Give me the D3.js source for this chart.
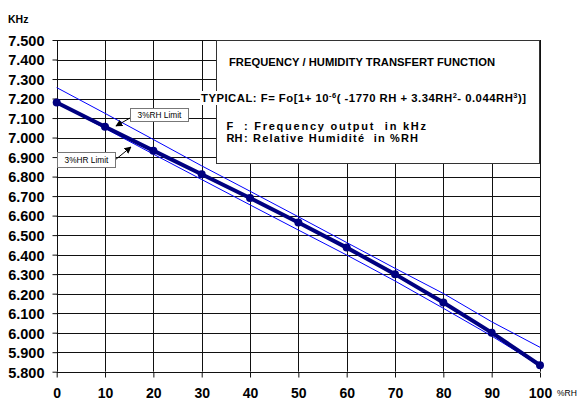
<!DOCTYPE html>
<html>
<head>
<meta charset="utf-8">
<script src="https://cdn.jsdelivr.net/npm/d3@7"></script>
<style>
  body { margin: 0; background: #fff; }
  text { font-family: "Liberation Sans", Arial, sans-serif; }
</style>
</head>
<body>
<div id="chart"></div>
<script>
// values
const rh = [0, 10, 20, 30, 40, 50, 60, 70, 80, 90, 100];
const freq = [7.180, 7.055, 6.933, 6.812, 6.690, 6.565, 6.436, 6.300, 6.155, 6.000, 5.833];
const upperLimit = [7.256, 7.124, 6.990, 6.855, 6.725, 6.594, 6.462, 6.330, 6.201, 6.056, 5.925];
const lowerLimit = [7.178, 7.047, 6.915, 6.785, 6.655, 6.526, 6.398, 6.265, 6.125, 5.983, 5.830];
const yTicks = d3.range(5.8, 7.5001, 0.1).map(v => +v.toFixed(1));
const xTicks = [0, 10, 20, 30, 40, 50, 60, 70, 80, 90, 100];

const w = 580, h = 401;

let svg = d3.select("#chart")
    .append("svg")
    .attr("width", w)
    .attr("height", h);

let x = d3.scaleLinear().domain([0, 100]).range([56.7, 540]);
let y = d3.scaleLinear().domain([5.8, 7.5]).range([371.7, 40]);

// grid
svg.append("g")
    .selectAll("line")
    .data(yTicks)
    .enter()
    .append("line")
    .attr("x1", x(0)).attr("x2", x(100))
    .attr("y1", d => Math.round(y(d)) + 0.5)
    .attr("y2", d => Math.round(y(d)) + 0.5)
    .attr("stroke", "#111");

svg.append("g")
    .selectAll("line")
    .data(xTicks)
    .enter()
    .append("line")
    .attr("y1", y(7.5)).attr("y2", y(5.8))
    .attr("x1", d => Math.round(x(d)) + 0.5)
    .attr("x2", d => Math.round(x(d)) + 0.5)
    .attr("stroke", "#111");

// axes
let yAxis = d3.axisLeft(y).tickValues(yTicks).tickSize(5).tickFormat(d3.format(".3f"));
let gy = svg.append("g")
    .attr("transform", "translate(" + (Math.round(x(0)) + 0.5) + ",0)")
    .call(yAxis);
gy.select(".domain").remove();
gy.selectAll("line").attr("stroke", "#111");
gy.selectAll("text")
    .attr("x", -13)
    .attr("dy", "0.37em")
    .attr("fill", "#000")
    .attr("font-size", "14.5px")
    .attr("font-weight", "bold")
    .attr("font-family", "Liberation Sans, Arial, sans-serif");

let xAxis = d3.axisBottom(x).tickValues(xTicks).tickSize(5).tickFormat(d3.format("d"));
let gx = svg.append("g")
    .attr("transform", "translate(0," + (Math.round(y(5.8)) + 0.5) + ")")
    .call(xAxis);
gx.select(".domain").remove();
gx.selectAll("line").attr("stroke", "#111");
gx.selectAll("text")
    .attr("y", 25.5)
    .attr("dy", 0)
    .attr("fill", "#000")
    .attr("font-size", "14px")
    .attr("font-weight", "bold")
    .attr("font-family", "Liberation Sans, Arial, sans-serif");

svg.append("text")
    .attr("x", 557).attr("y", 396)
    .attr("font-size", "8.5px")
    .text("%RH");

svg.append("text")
    .attr("x", 8).attr("y", 22.5)
    .attr("font-size", "10.5px")
    .attr("font-weight", "bold")
    .text("KHz");

// text box
svg.append("rect")
    .attr("x", 216.5).attr("y", 40.5)
    .attr("width", 323).attr("height", 123)
    .attr("fill", "#fff")
    .attr("stroke", "#333");

svg.append("text")
    .attr("x", 229).attr("y", 66)
    .attr("font-size", "11.2px")
    .attr("font-weight", "bold")
    .attr("textLength", 266)
    .text("FREQUENCY / HUMIDITY TRANSFERT FUNCTION");

// formula line runs a little past the box on the left
svg.append("rect")
    .attr("x", 200).attr("y", 91)
    .attr("width", 17).attr("height", 14)
    .attr("fill", "#fff");

let typ = svg.append("text")
    .attr("x", 201).attr("y", 102)
    .attr("font-size", "11.3px")
    .attr("letter-spacing", "0.5px")
    .attr("font-weight", "bold");
typ.append("tspan").text("TYPICAL: F= Fo[1+ 10");
typ.append("tspan").attr("dy", -4).attr("font-size", "7.5px").text("-6");
typ.append("tspan").attr("dy", 4).text("( -1770 RH + 3.34RH");
typ.append("tspan").attr("dy", -4).attr("font-size", "7.5px").text("2");
typ.append("tspan").attr("dy", 4).text("- 0.044RH");
typ.append("tspan").attr("dy", -4).attr("font-size", "7.5px").text("3");
typ.append("tspan").attr("dy", 4).text(")]");

function boxLine(yy, key, rest, len) {
    svg.append("text")
        .attr("x", 226.5).attr("y", yy)
        .attr("font-size", "11px")
        .attr("font-weight", "bold")
        .text(key);
    svg.append("text")
        .attr("x", 244).attr("y", yy)
        .attr("font-size", "11px")
        .attr("font-weight", "bold")
        .attr("textLength", len)
        .attr("xml:space", "preserve")
        .text(rest);
}
boxLine(130, "F", ": Frequency output  in kHz", 182);
boxLine(142, "RH", ": Relative Humidité  in %RH", 174);

// series
let line = d3.line()
    .x((d, i) => x(rh[i]))
    .y(d => y(d));

svg.append("path")
    .attr("d", line(upperLimit))
    .attr("fill", "none")
    .attr("stroke", "#0000ff")
    .attr("stroke-width", 1);

svg.append("path")
    .attr("d", line(lowerLimit))
    .attr("fill", "none")
    .attr("stroke", "#0000ff")
    .attr("stroke-width", 1);

svg.append("path")
    .attr("d", line(freq))
    .attr("fill", "none")
    .attr("stroke", "#000080")
    .attr("stroke-width", 4);

svg.selectAll("circle")
    .data(freq)
    .enter()
    .append("circle")
    .attr("cx", (d, i) => x(rh[i]))
    .attr("cy", d => y(d))
    .attr("r", 4)
    .attr("fill", "#000080");

// annotations
svg.append("defs").append("marker")
    .attr("id", "arrow")
    .attr("viewBox", "0 0 10 10")
    .attr("refX", 9).attr("refY", 5)
    .attr("markerWidth", 7).attr("markerHeight", 7)
    .attr("orient", "auto")
    .append("path")
    .attr("d", "M0,0 L10,5 L0,10 z")
    .attr("fill", "#000");

function callout(bx, by, bw, bh, label, ax1, ay1, ax2, ay2) {
    svg.append("line")
        .attr("x1", ax1).attr("y1", ay1)
        .attr("x2", ax2).attr("y2", ay2)
        .attr("stroke", "#000")
        .attr("marker-end", "url(#arrow)");
    svg.append("rect")
        .attr("x", bx + 0.5).attr("y", by + 0.5)
        .attr("width", bw).attr("height", bh)
        .attr("fill", "#fff")
        .attr("stroke", "#777");
    svg.append("text")
        .attr("x", bx + bw / 2 + 0.5).attr("y", by + bh / 2 + 3.3)
        .attr("text-anchor", "middle")
        .attr("font-size", "8.3px")
        .text(label);
}

callout(130, 108, 58, 13, "3%RH Limit", 130, 118, 116, 126);
callout(57, 152, 58, 15, "3%HR Limit", 115, 160, 131, 147);
</script>
</body>
</html>
